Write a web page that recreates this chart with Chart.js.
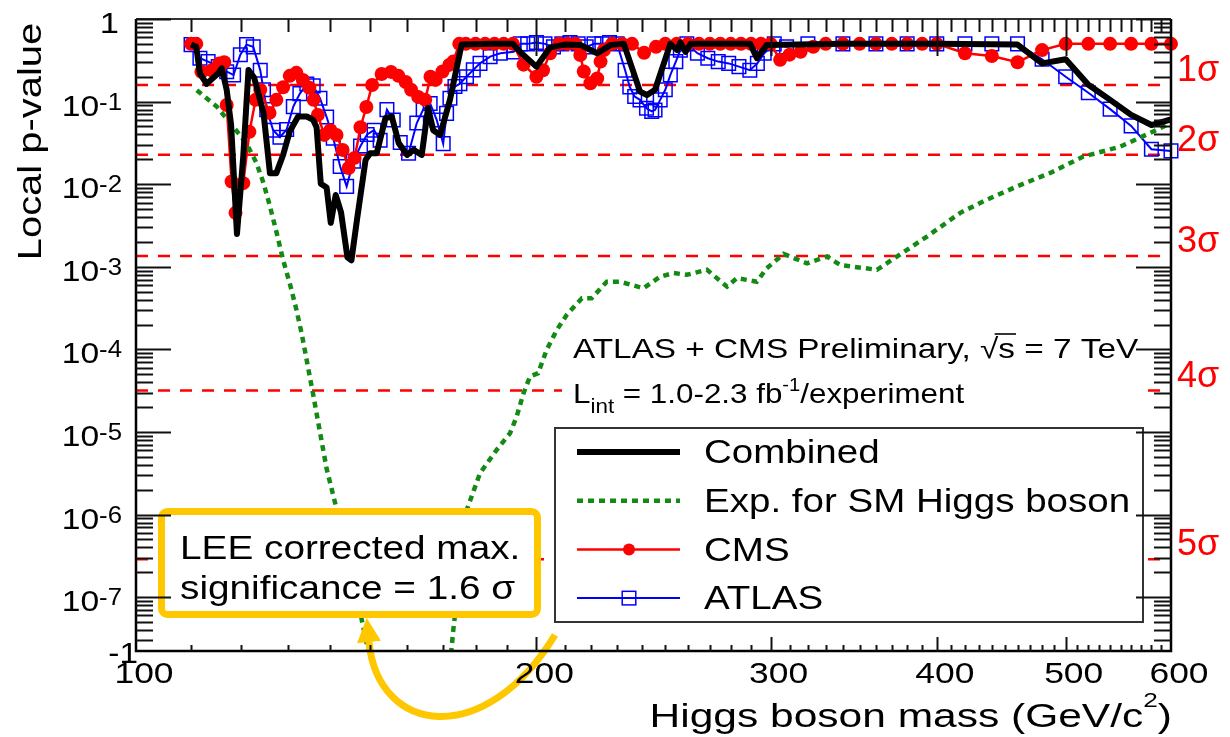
<!DOCTYPE html>
<html>
<head>
<meta charset="utf-8">
<title>Local p-value vs Higgs boson mass</title>
<script src="https://cdn.jsdelivr.net/npm/chart.js@4.4.1/dist/chart.umd.min.js"></script>
<style>
  html, body { margin: 0; padding: 0; background: #fff; }
  canvas { display: block; }
</style>
</head>
<body>
<canvas id="myChart" width="1230" height="737"></canvas>
<script>
// local p-value scans, ATLAS + CMS 7 TeV combination

const combMass = [110, 111, 111.7, 113, 115.3, 116, 117, 117.9, 119.1, 120.4,
  121.5, 122.7, 124.7, 126.1, 127.5, 129, 130.5, 132.4, 134.4, 135.9,
  136.7, 137.7, 139.1, 140.1, 141.3, 142.6, 144.2, 145.2, 146.6, 148.8,
  150, 151.7, 154, 155.7, 157.6, 159.9, 161.7, 164, 165.8, 167.3,
  169.3, 172.2, 175.7, 185, 192, 194.9, 200, 204.8, 210, 215.8,
  222.2, 227.5, 232.7, 239.3, 242.2, 245.6, 252.2, 255.2, 256.6, 258.9,
  261.2, 289.6, 293, 298, 340, 400, 460, 480, 500, 520,
  540, 560, 580, 600];
const combP = [0.49, 0.46, 0.22, 0.164, 0.22, 0.254, 0.139, 0.052, 0.0025, 0.0216,
  0.242, 0.194, 0.073, 0.0136, 0.0136, 0.0226, 0.0436, 0.066, 0.066, 0.06,
  0.049, 0.0101, 0.0091, 0.0034, 0.0074, 0.0046, 0.0013, 0.0012, 0.0037, 0.0197,
  0.0237, 0.0237, 0.063, 0.066, 0.0313, 0.0226, 0.026, 0.0226, 0.084, 0.045,
  0.0395, 0.105, 0.49, 0.5, 0.5, 0.385, 0.265, 0.453, 0.49, 0.486,
  0.385, 0.486, 0.5, 0.132, 0.12, 0.139, 0.5, 0.42, 0.52, 0.40,
  0.5, 0.5, 0.335, 0.486, 0.5, 0.5, 0.49, 0.29, 0.326, 0.16,
  0.105, 0.069, 0.052, 0.061];

const expMass = [111.1, 115, 118.4, 121.1, 123.2, 124.7, 126.1, 127.6, 129, 130.5,
  132, 133.2, 134.4, 135.9, 137.5, 139.1, 141.1, 145, 149.5, 155,
  160, 166, 170, 172.6, 173.2, 177.3, 181.4, 186.7, 191.1, 193.3,
  195.6, 197.8, 200.6, 203.6, 207.2, 210.8, 216.4, 220.1, 225.9, 231.2,
  240.7, 247.8, 253.6, 259.5, 268.7, 278.2, 283, 292.9, 298, 306.8,
  319.5, 330.8, 338.5, 360.6, 373.3, 393.2, 416.6, 436.3, 459.6, 486.8,
  515.4, 549.6, 578.8, 600];
const expP = [0.137, 0.087, 0.049, 0.031, 0.018, 0.0103, 5.4e-3, 2.54e-3, 1.21e-3, 6.3e-4,
  3.04e-4, 1.57e-4, 7.3e-5, 2.83e-5, 1.0e-5, 3.58e-6, 1.42e-6, 2.4e-7, 2.2e-8, 3e-9,
  1e-9, 1e-9, 3e-9, 2.2e-8, 4e-8, 1.14e-6, 3.17e-6, 6.07e-6, 9.7e-6, 1.54e-5,
  2.95e-5, 4.7e-5, 5.15e-5, 9.9e-5, 1.72e-4, 2.62e-4, 4.17e-4, 4.17e-4, 6.6e-4, 6.6e-4,
  5.5e-4, 7.6e-4, 8.4e-4, 8.0e-4, 9.2e-4, 5.75e-4, 7.3e-4, 6.6e-4, 9.6e-4, 1.43e-3,
  1.1e-3, 1.33e-3, 1.05e-3, 9.2e-4, 1.33e-3, 2.32e-3, 4.5e-3, 6.5e-3, 9.4e-3, 0.0137,
  0.0216, 0.0285, 0.0418, 0.055];

const cmsMass = [110, 111, 112, 114, 115.5, 116.5, 117, 118, 118.8, 120.4,
  121.7, 123, 124, 126, 127.5, 129, 130.5, 132, 133.5, 135,
  136, 137, 138.5, 140, 141.5, 143, 144.5, 146, 147.5, 149,
  150.5, 153, 155.5, 157.5, 159.5, 161, 163, 165, 166.5, 168,
  170, 172, 173.2, 175, 177, 180, 183, 186, 189, 192,
  195.6, 200, 202.3, 204.8, 208, 211, 214, 215.8, 217.1, 219.6,
  222.2, 223.5, 224.8, 228, 232, 236, 241, 246, 250, 255,
  260, 265, 270, 275, 280, 285, 290, 295, 300, 305,
  310, 316, 323, 330, 340, 350, 360, 370, 380, 390,
  400, 420, 440, 460, 480, 500, 520, 540, 560, 580,
  600];
const cmsP = [0.5, 0.5, 0.23, 0.24, 0.29, 0.30, 0.091, 0.0108, 0.0045, 0.0103,
  0.043, 0.105, 0.139, 0.073, 0.105, 0.149, 0.205, 0.223, 0.183, 0.147,
  0.105, 0.069, 0.0395, 0.045, 0.0395, 0.026, 0.0157, 0.0208, 0.049, 0.086,
  0.159, 0.216, 0.229, 0.205, 0.173, 0.139, 0.114, 0.105, 0.2, 0.183,
  0.231, 0.278, 0.305, 0.5, 0.5, 0.5, 0.5, 0.5, 0.5, 0.5,
  0.28, 0.2, 0.24, 0.385, 0.5, 0.5, 0.5, 0.367, 0.231, 0.167,
  0.19, 0.305, 0.42, 0.5, 0.5, 0.5, 0.39, 0.46, 0.5, 0.5,
  0.5, 0.5, 0.5, 0.5, 0.5, 0.5, 0.5, 0.5, 0.5, 0.32,
  0.37, 0.4, 0.46, 0.5, 0.5, 0.5, 0.5, 0.5, 0.5, 0.5,
  0.5, 0.385, 0.357, 0.30, 0.42, 0.5, 0.5, 0.5, 0.5, 0.5,
  0.5];

const atlasMass = [110, 111.7, 113.3, 115.3, 117, 118.4, 119.8, 121.1, 122.5, 124,
  124.7, 125.4, 126.8, 128.3, 129.8, 131.3, 132.8, 134.4, 135.9, 137.5,
  139.1, 140.7, 142.4, 144, 145.7, 147.5, 149.2, 151, 152.6, 154.4,
  156.1, 158, 160.3, 162.6, 164.4, 166.4, 168.3, 170.2, 171.2, 172.2,
  173.7, 175.2, 177.2, 179.3, 181.4, 184.6, 187.9, 192.3, 194.5, 197,
  200, 203, 206, 209, 212, 215, 218, 221, 224, 227,
  230, 233.2, 235.1, 237.1, 239.3, 242, 244.2, 245.6, 247.8, 250,
  252.2, 254.6, 256.6, 259.5, 264.3, 269.1, 274, 279, 284, 289.4,
  293.2, 296.7, 301.9, 308.4, 320, 340, 360, 380, 400, 420,
  440, 460, 480, 500, 520, 540, 560, 580, 600];
const atlasP = [0.49, 0.335, 0.305, 0.265, 0.23, 0.21, 0.37, 0.49, 0.46, 0.24,
  0.139, 0.08, 0.045, 0.037, 0.046, 0.087, 0.125, 0.163, 0.155, 0.11,
  0.065, 0.036, 0.0164, 0.0094, 0.019, 0.029, 0.04, 0.045, 0.034, 0.08,
  0.06, 0.032, 0.0237, 0.055, 0.08, 0.095, 0.06, 0.031, 0.072, 0.11,
  0.152, 0.165, 0.2, 0.242, 0.29, 0.35, 0.385, 0.4, 0.5, 0.5,
  0.52, 0.5, 0.46, 0.5, 0.52, 0.5, 0.46, 0.5, 0.5, 0.52,
  0.5, 0.24, 0.15, 0.115, 0.105, 0.083, 0.076, 0.079, 0.105, 0.139,
  0.21, 0.305, 0.42, 0.5, 0.385, 0.335, 0.305, 0.29, 0.265, 0.24,
  0.29, 0.385, 0.5, 0.46, 0.5, 0.5, 0.5, 0.5, 0.5, 0.5,
  0.5, 0.5, 0.326, 0.2, 0.128, 0.081, 0.0508, 0.0265, 0.0253];

// one-sided p-values of the 1..5 sigma reference lines
const sigmaNames = ['1σ', '2σ', '3σ', '4σ', '5σ'];
const sigmaP = [0.1587, 0.02275, 0.00135, 3.17e-5, 2.87e-7];

const massTicks = [100, 200, 300, 400, 500, 600];
const Y_MIN = 2.23e-8;

const FONT = '"Liberation Sans", Arial, Helvetica, sans-serif';
const RED = '#ff0000';
const BLUE = '#0000ff';
const GREEN = '#138a13';
const GOLD = '#ffc700';

function points(xs, ys) {
  return xs.map((x, i) => ({ x: x, y: ys[i] }));
}

// text pieces drawn one after the other (for super/subscripts), sx widens the glyphs
function drawRuns(c, runs, x, y, opt) {
  opt = opt || {};
  const sx = opt.sx || 1;
  c.save();
  c.fillStyle = opt.color || '#000';
  c.textBaseline = 'alphabetic';
  c.textAlign = 'left';
  let total = 0;
  const widths = runs.map(r => {
    c.font = r.size + 'px ' + FONT;
    const w = c.measureText(r.text).width;
    total += w;
    return w;
  });
  c.translate(x, y);
  if (opt.rot) c.rotate(opt.rot);
  c.scale(sx, 1);
  let pos = opt.align === 'right' ? -total : opt.align === 'center' ? -total / 2 : 0;
  runs.forEach((r, i) => {
    c.font = r.size + 'px ' + FONT;
    c.fillText(r.text, pos, r.dy || 0);
    pos += widths[i];
  });
  c.restore();
  return total * sx;
}

function drawText(c, text, x, y, size, opt) {
  return drawRuns(c, [{ text: text, size: size }], x, y, opt);
}

function line(c, x1, y1, x2, y2) {
  c.beginPath();
  c.moveTo(x1, y1);
  c.lineTo(x2, y2);
  c.stroke();
}

const sigmaSets = sigmaP.map(p => ({
  label: '',
  data: [{ x: 100, y: p }, { x: 600, y: p }],
  borderColor: RED,
  borderWidth: 2.5,
  borderDash: [12, 10],
  pointRadius: 0
}));

const decorations = {
  id: 'decorations',
  afterDraw(chart) {
    const c = chart.ctx;
    const xs = chart.scales.x;
    const ys = chart.scales.y;
    const { left, right, top, bottom } = chart.chartArea;

    // header text on a white pad
    c.fillStyle = '#fff';
    c.fillRect(562, 330, 581, 90);
    const head = 'ATLAS + CMS Preliminary, ';
    drawText(c, head + '√s = 7 TeV', 573, 358, 28, { sx: 1.19 });
    c.save();
    c.font = '28px ' + FONT;
    const a = c.measureText(head).width * 1.19;
    const b = c.measureText('√').width * 1.19;
    const s = c.measureText('s').width * 1.19;
    c.strokeStyle = '#000';
    c.lineWidth = 1.6;
    line(c, 573 + a + b * 0.8, 334, 573 + a + b + s + 1, 334);
    c.restore();
    drawRuns(c, [
      { text: 'L', size: 28 },
      { text: 'int', size: 20, dy: 10 },
      { text: ' = 1.0-2.3 fb', size: 28 },
      { text: '-1', size: 18, dy: -12 },
      { text: '/experiment', size: 28 }
    ], 573, 403, { sx: 1.12 });

    // legend
    c.save();
    c.fillStyle = '#fff';
    c.fillRect(555, 428, 588, 194);
    c.strokeStyle = '#333';
    c.lineWidth = 2;
    c.strokeRect(555, 428, 588, 194);
    [0, 1, 2, 3].forEach((di, i) => {
      const ds = chart.data.datasets[di];
      const ly = 452 + i * 48.7;
      c.strokeStyle = ds.borderColor;
      c.lineWidth = ds.borderWidth;
      c.setLineDash(ds.borderDash || []);
      line(c, 577, ly, 680, ly);
      c.setLineDash([]);
      if (ds.pointRadius > 0) {
        if (ds.pointStyle === 'rect') {
          const h = ds.pointRadius * Math.SQRT1_2;
          c.strokeStyle = ds.pointBorderColor;
          c.lineWidth = ds.pointBorderWidth;
          c.strokeRect(629 - h, ly - h, 2 * h, 2 * h);
        } else {
          c.fillStyle = ds.pointBackgroundColor;
          c.beginPath();
          c.arc(629, ly, ds.pointRadius - 1, 0, Math.PI * 2);
          c.fill();
        }
      }
      drawText(c, ds.label, 704, ly + 11.3, 33.5, { sx: 1.15 });
    });
    c.restore();

    // LEE box
    c.save();
    c.fillStyle = '#fff';
    c.strokeStyle = GOLD;
    c.lineWidth = 7;
    c.beginPath();
    c.roundRect(161.5, 511.5, 376, 103, 6);
    c.fill();
    c.stroke();
    c.restore();
    drawText(c, 'LEE corrected max.', 180, 559, 34, { sx: 1.14 });
    drawText(c, 'significance = 1.6 σ', 180, 599, 34, { sx: 1.14 });

    // curved arrow pointing at the box
    c.save();
    c.strokeStyle = GOLD;
    c.fillStyle = GOLD;
    c.lineWidth = 7;
    c.beginPath();
    c.moveTo(555, 635);
    c.bezierCurveTo(485, 750, 378, 735, 369, 642);
    c.stroke();
    const dx = 369 - 378, dy = 642 - 735;
    const len = Math.hypot(dx, dy);
    const ux = dx / len, uy = dy / len;
    c.beginPath();
    c.moveTo(369 + ux * 24, 642 + uy * 24);
    c.lineTo(369 - uy * 12, 642 + ux * 12);
    c.lineTo(369 + uy * 12, 642 - ux * 12);
    c.closePath();
    c.fill();
    c.restore();

    // frame
    c.save();
    c.strokeStyle = '#000';
    c.lineWidth = 2.5;
    c.beginPath();
    c.moveTo(left, top);
    c.lineTo(left, bottom);
    c.lineTo(right, bottom);
    c.lineTo(right, top);
    c.stroke();
    c.strokeStyle = '#333';
    c.lineWidth = 2;
    line(c, left, top, right, top);

    // mass ticks, every 10 GeV
    c.strokeStyle = '#111';
    c.lineWidth = 2;
    for (let m = 110; m < 600; m += 10) {
      const px = Math.round(xs.getPixelForValue(m)) + 0.5;
      const major = m % 100 === 0;
      line(c, px, bottom, px, bottom - (major ? 14 : 6));
      line(c, px, top, px, top + (major ? 37 : 13));
    }
    // p-value ticks
    for (let e = 0; e >= -8; e--) {
      for (let j = 1; j <= 9; j++) {
        const v = j * Math.pow(10, e);
        if (v < Y_MIN || v > 1) continue;
        const py = Math.round(ys.getPixelForValue(v)) + 0.5;
        const l = j === 1 ? 35 : 17;
        line(c, left, py, left + l, py);
        line(c, right, py, right - l, py);
      }
    }
    c.restore();

    // tick labels
    massTicks.forEach(m => {
      drawText(c, String(m), xs.getPixelForValue(m) + 8, 683, 30, { sx: 1.18, align: 'center' });
    });
    for (let e = 0; e >= -7; e--) {
      const py = ys.getPixelForValue(Math.pow(10, e));
      if (e === 0) {
        drawText(c, '1', 119, py + 14, 30, { sx: 1.15, align: 'right' });
      } else {
        drawRuns(c, [
          { text: '10', size: 30 },
          { text: String(e), size: 23, dy: -6 }
        ], 122, py + 14, { sx: 1.12, align: 'right' });
      }
    }
    drawText(c, '-1', 138, 663, 29, { sx: 1.15, align: 'right' });

    // sigma labels on the right
    sigmaP.forEach((p, i) => {
      drawText(c, sigmaNames[i], 1177, ys.getPixelForValue(p) - 4, 36, { color: RED });
    });

    // axis titles
    drawText(c, 'Local p-value', 41, 141.5, 33, { sx: 1.21, align: 'center', rot: -Math.PI / 2 });
    drawRuns(c, [
      { text: 'Higgs boson mass (GeV/c', size: 34 },
      { text: '2', size: 21, dy: -20 },
      { text: ')', size: 34 }
    ], 1172, 727, { sx: 1.25, align: 'right' });
  }
};

const ctx = document.getElementById('myChart').getContext('2d');
const chart = new Chart(ctx, {
  type: 'line',
  data: {
    datasets: [
      {
        label: 'Combined',
        data: points(combMass, combP),
        borderColor: '#000',
        borderWidth: 6,
        borderJoinStyle: 'round',
        pointRadius: 0
      },
      {
        label: 'Exp. for SM Higgs boson',
        data: points(expMass, expP),
        borderColor: GREEN,
        borderWidth: 4.5,
        borderDash: [6, 5],
        pointRadius: 0,
        clip: 0
      },
      {
        label: 'CMS',
        data: points(cmsMass, cmsP),
        borderColor: RED,
        borderWidth: 2.5,
        pointStyle: 'circle',
        pointRadius: 7,
        pointBorderWidth: 0,
        pointBackgroundColor: RED,
        pointBorderColor: RED,
        clip: 12
      },
      {
        label: 'ATLAS',
        data: points(atlasMass, atlasP),
        borderColor: BLUE,
        borderWidth: 2,
        pointStyle: 'rect',
        pointRadius: 9.6,
        pointBorderWidth: 1.5,
        pointBackgroundColor: 'rgba(0,0,0,0)',
        pointBorderColor: BLUE,
        clip: 12
      },
      ...sigmaSets
    ]
  },
  options: {
    responsive: false,
    animation: false,
    devicePixelRatio: 1,
    layout: {
      autoPadding: false,
      padding: { left: 136, right: 59, top: 19, bottom: 86 }
    },
    plugins: {
      legend: { display: false },
      tooltip: { enabled: false }
    },
    scales: {
      x: { type: 'logarithmic', min: 100, max: 600, display: false },
      y: { type: 'logarithmic', min: Y_MIN, max: 1, display: false }
    }
  },
  plugins: [decorations]
});
</script>
</body>
</html>
